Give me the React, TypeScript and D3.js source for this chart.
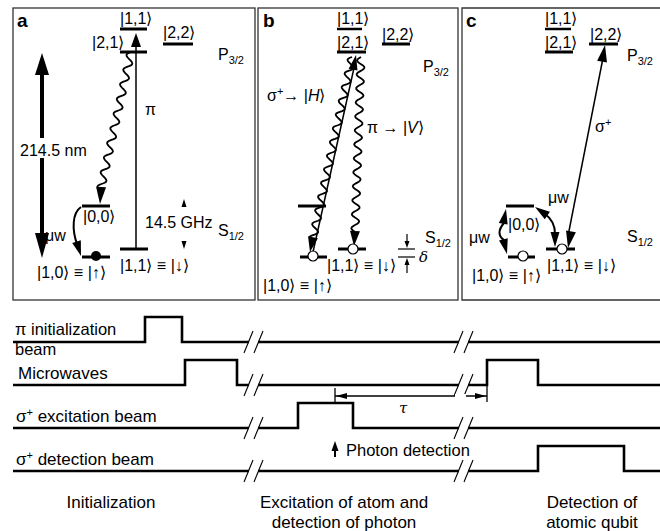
import React from "react";
import * as d3 from "d3";

const FONT = "'Liberation Sans', Arial, Helvetica, sans-serif";

// ---------------- data ----------------
const panelLetters = ["a", "b", "c"];
const excitedStates = ["|1,1⟩", "|2,1⟩", "|2,2⟩"];
const groundStates = ["|1,0⟩ ≡ |↑⟩", "|1,1⟩ ≡ |↓⟩"];
const auxState = "|0,0⟩";
const manifolds = ["P", "S"];
const manifoldSubs = ["3/2", "1/2"];
const wavelengthLabel = "214.5 nm";
const splittingLabel = "14.5 GHz";
const timingRows = ["π initialization", "Microwaves", "σ excitation beam", "σ detection beam"];
const pulseStart = [[132], [172, 474], [285], [525]];
const pulseEnd = [[169], [224, 525], [340], [611]];
const breakTimes = [241, 451];
const tauTimes = [322, 474];
const photonTime = 322;
const phaseLines = [["Initialization"], ["Excitation of atom and", "detection of photon"], ["Detection of", "atomic qubit"]];
const phaseCenters = [98, 331, 579];

// ---------------- helpers ----------------
const tx = d3.scaleLinear().domain([0, 647]).range([13, 660]);
const rowY = d3.scalePoint<string>().domain(timingRows).range([342, 471]);

function wavyPath(x1: number, y1: number, x2: number, y2: number, wl = 14, amp = 3.8) {
  const dx = x2 - x1, dy = y2 - y1, L = Math.hypot(dx, dy);
  const ux = dx / L, uy = dy / L;
  const n = Math.max(2, Math.ceil(L / 1.2));
  const pts: [number, number][] = d3.range(n + 1).map((i) => {
    const s = (i / n) * L;
    const o = amp * Math.sin((2 * Math.PI * s) / wl);
    return [x1 + ux * s - uy * o, y1 + uy * s + ux * o];
  });
  return d3.line()(pts) as string;
}

function headPts(fx: number, fy: number, tX: number, tY: number, len: number, w: number) {
  const dx = tX - fx, dy = tY - fy, L = Math.hypot(dx, dy);
  const ux = dx / L, uy = dy / L;
  const bx = tX - ux * len, by = tY - uy * len;
  return `${tX},${tY} ${bx - (uy * w) / 2},${by + (ux * w) / 2} ${bx + (uy * w) / 2},${by - (ux * w) / 2}`;
}

const Head = ({ f, t, len = 14, w = 9 }: { f: number[]; t: number[]; len?: number; w?: number }) => (
  <polygon points={headPts(f[0], f[1], t[0], t[1], len, w)} fill="#000" />
);

const Lvl = ({ x1, x2, y, sw = 3 }: { x1: number; x2: number; y: number; sw?: number }) => (
  <line x1={x1} x2={x2} y1={y} y2={y} stroke="#000" strokeWidth={sw} />
);

const T = ({ x, y, children, size = 16, anchor = "start", weight = "normal", style = "normal", family = FONT }: any) => (
  <text x={x} y={y} fontSize={size} textAnchor={anchor} fontWeight={weight} fontStyle={style} fontFamily={family} fill="#000">
    {children}
  </text>
);

const Manifold = ({ x, y, i }: { x: number; y: number; i: number }) => (
  <T x={x} y={y} size={16}>
    {manifolds[i]}
    <tspan dy={4} fontSize={11}>{manifoldSubs[i]}</tspan>
  </T>
);

const Sigma = () => (
  <>
    σ<tspan dy={-6} fontSize={11}>+</tspan>
  </>
);

// ---------------- panels ----------------
function PanelA() {
  return (
    <g>
      <rect x={13} y={8} width={242} height={292} fill="none" stroke="#333" strokeWidth={1.3} />
      <T x={17} y={27} size={19} weight="bold">{panelLetters[0]}</T>
      {/* P levels */}
      <Lvl x1={120} x2={147} y={29} />
      <Lvl x1={120} x2={147} y={52} />
      <Lvl x1={163} x2={193} y={44} />
      <T x={120} y={24}>{excitedStates[0]}</T>
      <T x={92} y={48}>{excitedStates[1]}</T>
      <T x={163} y={38}>{excitedStates[2]}</T>
      <Manifold x={218} y={60} i={0} />
      {/* S levels */}
      <Lvl x1={82} x2={110} y={206} />
      <Lvl x1={82} x2={110} y={257} />
      <Lvl x1={120} x2={148} y={249} />
      <T x={83} y={222}>{auxState}</T>
      <T x={37} y={278}>{groundStates[0]}</T>
      <T x={120} y={271}>{groundStates[1]}</T>
      <Manifold x={218} y={236} i={1} />
      {/* big double arrow 214.5 nm */}
      <line x1={42} x2={42} y1={138} y2={70} stroke="#000" strokeWidth={4} />
      <Head f={[42, 90]} t={[42, 53]} len={22} w={14} />
      <line x1={42} x2={42} y1={158} y2={238} stroke="#000" strokeWidth={4} />
      <Head f={[42, 200]} t={[42, 258]} len={25} w={14} />
      <T x={20} y={156}>{wavelengthLabel}</T>
      {/* pi transition */}
      <line x1={136} x2={136} y1={249} y2={44} stroke="#000" strokeWidth={1.5} />
      <Head f={[136, 60]} t={[136, 33]} len={14} w={10} />
      <T x={145} y={115}>π</T>
      {/* spontaneous decay */}
      <path d={wavyPath(131, 52, 101, 188, 15, 3.8)} fill="none" stroke="#000" strokeWidth={1.8} />
      <Head f={[101, 188]} t={[100, 204]} len={17} w={10} />
      {/* microwave */}
      <path d="M 81 207 C 72 213, 72 230, 77 244" fill="none" stroke="#000" strokeWidth={2} />
      <Head f={[76, 240]} t={[81, 256]} len={15} w={9} />
      <T x={45} y={241}>μw</T>
      <circle cx={96} cy={256} r={5} fill="#000" />
      {/* 14.5 GHz */}
      <Head f={[184, 210]} t={[184, 199]} len={8} w={5} />
      <Head f={[184, 238]} t={[184, 249]} len={8} w={5} />
      <T x={145} y={228}>{splittingLabel}</T>
    </g>
  );
}

function PanelB() {
  return (
    <g>
      <rect x={258} y={8} width={200} height={292} fill="none" stroke="#333" strokeWidth={1.3} />
      <T x={263} y={27} size={19} weight="bold">{panelLetters[1]}</T>
      <Lvl x1={337} x2={362} y={29} sw={2.5} />
      <Lvl x1={337} x2={366} y={52} />
      <Lvl x1={382} x2={410} y={44} />
      <T x={337} y={24}>{excitedStates[0]}</T>
      <T x={337} y={48}>{excitedStates[1]}</T>
      <T x={382} y={40}>{excitedStates[2]}</T>
      <Manifold x={423} y={72} i={0} />
      {/* S levels */}
      <Lvl x1={298} x2={326} y={206} />
      <Lvl x1={300} x2={327} y={257} />
      <Lvl x1={338} x2={366} y={249} />
      {/* excitation */}
      <line x1={313} y1={252} x2={354} y2={68} stroke="#000" strokeWidth={1.5} />
      <Head f={[353, 70]} t={[356, 55]} len={15} w={9} />
      {/* decays */}
      <path d={wavyPath(352, 57, 313, 238, 14, 3.8)} fill="none" stroke="#000" strokeWidth={1.8} />
      <Head f={[313, 237]} t={[310, 252]} len={15} w={10} />
      <path d={wavyPath(361, 57, 355, 232, 14, 3.8)} fill="none" stroke="#000" strokeWidth={1.8} />
      <Head f={[355, 231]} t={[354, 246]} len={15} w={10} />
      <circle cx={313} cy={256} r={5} fill="#fff" stroke="#000" strokeWidth={1.2} />
      <circle cx={353} cy={249} r={5} fill="#fff" stroke="#000" strokeWidth={1.2} />
      <T x={267} y={101}>
        <Sigma />
        <tspan dy={6}>→ |</tspan>
        <tspan fontStyle="italic">H</tspan>⟩
      </T>
      <T x={367} y={133}>
        π → |<tspan fontStyle="italic">V</tspan>⟩
      </T>
      <T x={327} y={271}>{groundStates[1]}</T>
      <T x={263} y={291}>{groundStates[0]}</T>
      {/* delta */}
      <Lvl x1={398} x2={415} y={249} sw={1.2} />
      <Lvl x1={398} x2={415} y={257} sw={1.2} />
      <line x1={407} x2={407} y1={234} y2={242} stroke="#000" strokeWidth={1.2} />
      <Head f={[407, 240]} t={[407, 248]} len={7} w={5} />
      <line x1={407} x2={407} y1={265} y2={273} stroke="#000" strokeWidth={1.2} />
      <Head f={[407, 266]} t={[407, 258]} len={7} w={5} />
      <T x={419} y={262} style="italic" family="'DejaVu Serif', 'Liberation Serif', serif" size={15}>δ</T>
      <Manifold x={425} y={243} i={1} />
    </g>
  );
}

function PanelC() {
  return (
    <g>
      <path d="M 662 8 H 462 V 300 H 662" fill="none" stroke="#333" strokeWidth={1.3} />
      <T x={466} y={27} size={19} weight="bold">{panelLetters[2]}</T>
      <Lvl x1={545} x2={571} y={29} sw={2.5} />
      <Lvl x1={545} x2={573} y={52} />
      <Lvl x1={589} x2={618} y={44} />
      <T x={545} y={24}>{excitedStates[0]}</T>
      <T x={545} y={48}>{excitedStates[1]}</T>
      <T x={590} y={40}>{excitedStates[2]}</T>
      <Manifold x={627} y={61} i={0} />
      {/* S levels */}
      <Lvl x1={506} x2={534} y={206} />
      <Lvl x1={508} x2={535} y={257} />
      <Lvl x1={546} x2={575} y={249} />
      {/* sigma+ cycling */}
      <line x1={568} y1={236} x2={603} y2={58} stroke="#000" strokeWidth={1.5} />
      <Head f={[602, 62]} t={[605, 45]} len={17} w={10} />
      <Head f={[571, 231]} t={[568, 248]} len={17} w={10} />
      <T x={595} y={132}>
        <Sigma />
      </T>
      {/* microwaves */}
      <path d="M 504 223 C 498 230, 498 236, 504 240" fill="none" stroke="#000" strokeWidth={2} />
      <Head f={[503, 225]} t={[506, 209]} len={15} w={9} />
      <Head f={[503, 238]} t={[507, 254]} len={15} w={9} />
      <T x={469} y={243}>μw</T>
      <path d="M 545 214 Q 555 221 555 234" fill="none" stroke="#000" strokeWidth={2} />
      <Head f={[548, 216]} t={[535, 207]} len={15} w={9} />
      <Head f={[555, 232]} t={[555, 247]} len={15} w={9} />
      <T x={548} y={203}>μw</T>
      <circle cx={523} cy={256} r={5} fill="#fff" stroke="#000" strokeWidth={1.2} />
      <circle cx={562} cy={249} r={5} fill="#fff" stroke="#000" strokeWidth={1.2} />
      <T x={508} y={230}>{auxState}</T>
      <T x={547} y={271}>{groundStates[1]}</T>
      <T x={472} y={281}>{groundStates[0]}</T>
      <Manifold x={627} y={242} i={1} />
    </g>
  );
}

// ---------------- timing diagram ----------------
function Timing() {
  const H = 25;
  const rows = timingRows.map((name, i) => {
    const low = rowY(name) as number;
    const pts: [number, number][] = [[tx(0), low]];
    pulseStart[i].forEach((s, k) => {
      const e = pulseEnd[i][k];
      pts.push([tx(s), low], [tx(s), low - H], [tx(e), low - H], [tx(e), low]);
    });
    pts.push([tx(647), low]);
    return { name, low, d: d3.line()(pts) as string };
  });
  const tauY = (rowY(timingRows[2]) as number) - 32;
  const t0 = tx(tauTimes[0]), t1 = tx(tauTimes[1]);
  const px = tx(photonTime);
  const excLow = rowY(timingRows[2]) as number;
  return (
    <g>
      {rows.map((r) => (
        <path key={r.name} d={r.d} fill="none" stroke="#000" strokeWidth={2.6} />
      ))}
      {/* tau bracket */}
      <line x1={t0} x2={t1} y1={tauY} y2={tauY} stroke="#000" strokeWidth={1.3} />
      <line x1={t0} x2={t0} y1={tauY - 8} y2={tauY + 6} stroke="#000" strokeWidth={1.3} />
      <line x1={t1} x2={t1} y1={tauY - 10} y2={tauY + 6} stroke="#000" strokeWidth={1.3} />
      <Head f={[t0 + 10, tauY]} t={[t0 + 1, tauY]} len={11} w={6} />
      <Head f={[t1 - 10, tauY]} t={[t1 - 1, tauY]} len={11} w={6} />
      <T x={(t0 + t1) / 2 - 12} y={tauY + 17} style="italic" family="'DejaVu Serif', 'Liberation Serif', serif" size={15}>τ</T>
      {/* breaks */}
      {breakTimes.map((bt) =>
        rows.map((r) => {
          const xc = tx(bt);
          const y = r.low;
          return (
            <g key={`${bt}-${r.name}`}>
              <rect x={xc - 5} y={y - 3} width={9} height={6} fill="#fff" />
              <line x1={xc - 10} y1={y + 11} x2={xc - 1} y2={y - 11} stroke="#000" strokeWidth={1.1} />
              <line x1={xc} y1={y + 11} x2={xc + 9} y2={y - 11} stroke="#000" strokeWidth={1.1} />
            </g>
          );
        })
      )}
      <rect x={tx(breakTimes[1]) - 9} y={tauY - 2} width={11} height={4} fill="#fff" />
      {/* photon detection */}
      <line x1={px} x2={px} y1={excLow + 29} y2={excLow + 20} stroke="#000" strokeWidth={2} />
      <Head f={[px, excLow + 24]} t={[px, excLow + 13]} len={10} w={7} />
      <T x={px + 11} y={excLow + 28} size={16.5}>Photon detection</T>
      {/* row labels */}
      <T x={15} y={(rowY(timingRows[0]) as number) - 7} size={16.5}>π initialization</T>
      <T x={15} y={(rowY(timingRows[0]) as number) + 13} size={16.5}>beam</T>
      <T x={18} y={(rowY(timingRows[1]) as number) - 6} size={17}>{timingRows[1]}</T>
      <T x={16} y={(rowY(timingRows[2]) as number) - 6} size={17}>
        <Sigma />
        <tspan dy={6}> excitation beam</tspan>
      </T>
      <T x={16} y={(rowY(timingRows[3]) as number) - 6} size={17}>
        <Sigma />
        <tspan dy={6}> detection beam</tspan>
      </T>
      {/* phases */}
      {phaseLines.map((lines, i) =>
        lines.map((l, k) => (
          <T key={l} x={tx(phaseCenters[i])} y={508 + k * 20} size={17} anchor="middle">
            {l}
          </T>
        ))
      )}
    </g>
  );
}

export default function App() {
  return (
    <svg width={660} height={531} viewBox="0 0 660 531" style={{ display: "block", position: "absolute", left: 0, top: 0, background: "#fff" }}>
      <rect width={660} height={531} fill="#fff" />
      <PanelA />
      <PanelB />
      <PanelC />
      <Timing />
    </svg>
  );
}
